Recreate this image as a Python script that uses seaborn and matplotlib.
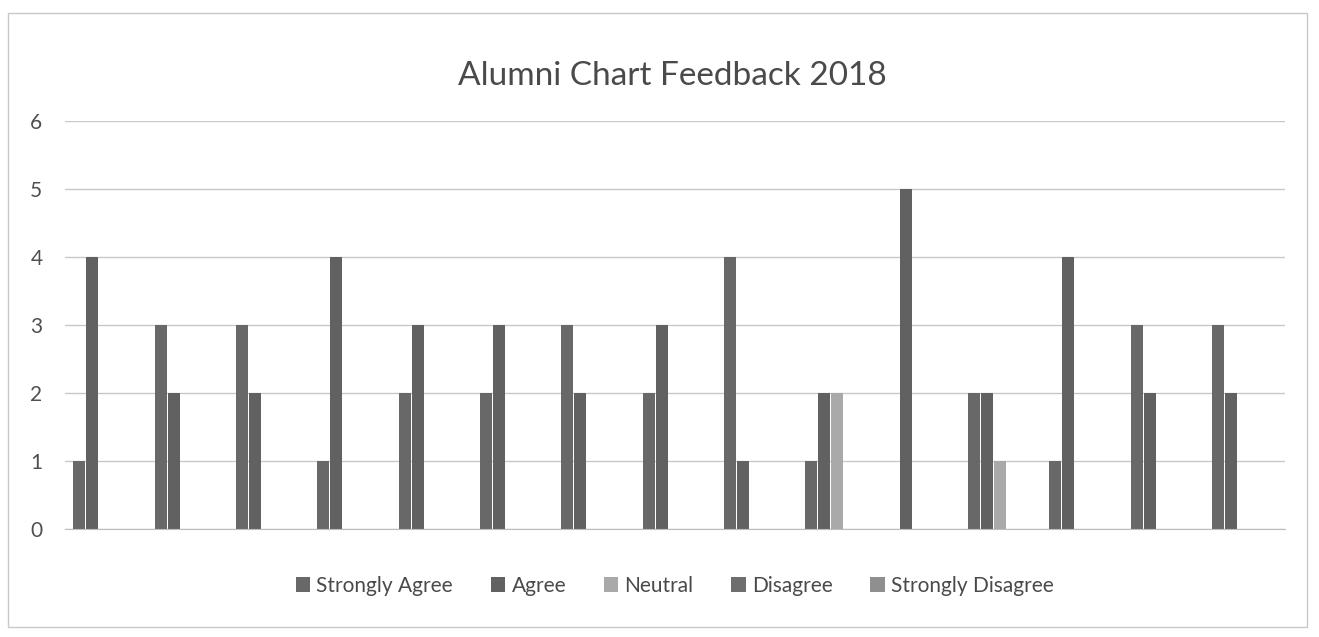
import seaborn as sns
import pandas as pd
import matplotlib.pyplot as plt
from matplotlib.patches import Rectangle

# Feedback counts per question (15 questions, no labels on the x axis)
questions = [str(i) for i in range(1, 16)]
responses = ['Strongly Agree', 'Agree', 'Neutral', 'Disagree', 'Strongly Disagree']
strongly_agree = [1, 3, 3, 1, 2, 2, 3, 2, 4, 1, 0, 2, 1, 3, 3]
agree = [4, 2, 2, 4, 3, 3, 2, 3, 1, 2, 5, 2, 4, 2, 2]
neutral = [0, 0, 0, 0, 0, 0, 0, 0, 0, 2, 0, 1, 0, 0, 0]
disagree = [0, 0, 0, 0, 0, 0, 0, 0, 0, 0, 0, 0, 0, 0, 0]
strongly_disagree = [0, 0, 0, 0, 0, 0, 0, 0, 0, 0, 0, 0, 0, 0, 0]
y_ticks = [0, 1, 2, 3, 4, 5, 6]

series = [strongly_agree, agree, neutral, disagree, strongly_disagree]
rows = []
for name, vals in zip(responses, series):
    for q, v in zip(questions, vals):
        rows.append({'Question': q, 'Response': name, 'Value': v})
data = pd.DataFrame(rows)

palette = ['#686868', '#616161', '#a9a9a9', '#6e6e6e', '#8f8f8f']

sns.set_style('white')
plt.rcParams['font.family'] = ['Lato', 'DejaVu Sans']

fig = plt.figure(figsize=(13.19, 6.37), dpi=100)
ax = fig.add_axes([0.049, 0.17, 0.925, 0.64])

sns.barplot(data=data, x='Question', y='Value', hue='Response',
            palette=palette, width=0.8, gap=0.08, linewidth=0, ax=ax)

ax.set_ylim(0, 6)
ax.set_yticks(y_ticks)
ax.yaxis.grid(True, color='#c8c8c8', linewidth=1)
ax.set_axisbelow(True)
ax.set_xlabel('')
ax.set_ylabel('')
ax.set_xticks([])
for side in ['top', 'right', 'left']:
    ax.spines[side].set_visible(False)
ax.spines['bottom'].set_color('#bdbdbd')
ax.tick_params(axis='y', length=0, labelsize=15, labelcolor='#505050', pad=16)

fig.text(0.51, 0.88, 'Alumni Chart Feedback 2018', ha='center', va='center',
         fontsize=24, color='#4a4a4a')

sns.move_legend(ax, 'upper center', bbox_to_anchor=(0.5, -0.07), ncol=5,
                frameon=False, title=None, fontsize=15, handlelength=0.7,
                handleheight=0.7, columnspacing=1.8, handletextpad=0.3)
for t in ax.get_legend().get_texts():
    t.set_color('#4a4a4a')

# outer chart border
fig.patches.append(Rectangle((0.006, 0.015), 0.985, 0.965, transform=fig.transFigure,
                             fill=False, edgecolor='#c8c8c8', linewidth=1))

fig.savefig('out.png', dpi=100)
